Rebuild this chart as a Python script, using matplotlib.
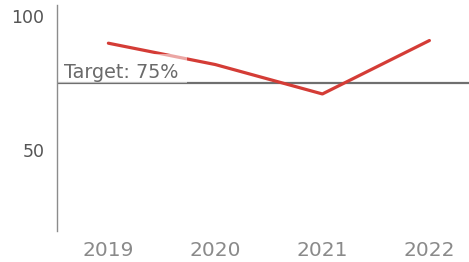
import matplotlib.pyplot as plt
from matplotlib.patches import Rectangle
from matplotlib.transforms import blended_transform_factory

years = ["2019", "2020", "2021", "2022"]
values = [90, 82, 71, 91]
target = 75
target_label = "Target: 75%"
y_ticks = [50, 100]

plt.rcParams["font.family"] = ["DejaVu Sans"]

fig = plt.figure(figsize=(4.69, 2.62), dpi=100)
ax = fig.add_axes([57 / 469, 31 / 262, 412 / 469, 226 / 262])

x = list(range(len(years)))
ax.plot(x, values, color="#d43c36", linewidth=2.3, solid_capstyle="round", zorder=2)
ax.axhline(target, color="#6f6f6f", linewidth=1.6, zorder=1)

# semi-transparent white label background that washes out the lines behind it
trans = blended_transform_factory(ax.transAxes, ax.transData)
ax.add_patch(Rectangle((0, target), 0.316, 10.8, transform=trans,
                       facecolor="white", edgecolor="none", alpha=0.55, zorder=2.5))
ax.text(0.017, target + 1.9, target_label, transform=ax.get_yaxis_transform(),
        fontsize=13.8, color="#6a6a6a", va="baseline", ha="left", zorder=3)

ax.set_xlim(-0.48, 3.37)
ax.set_ylim(19.7, 104.3)
ax.set_xticks(x)
ax.set_xticklabels(years, fontsize=14.5, color="#8a8a8a")
ax.set_yticks(y_ticks)
ax.set_yticklabels([str(t) for t in y_ticks], fontsize=12.5, color="#555555")
ax.tick_params(length=0)
ax.tick_params(axis="y", pad=9)
ax.tick_params(axis="x", pad=7.5)

for side in ["top", "right", "bottom"]:
    ax.spines[side].set_visible(False)
ax.spines["left"].set_color("#8c8c8c")
ax.spines["left"].set_linewidth(1.0)

fig.savefig("out.png", dpi=100)
